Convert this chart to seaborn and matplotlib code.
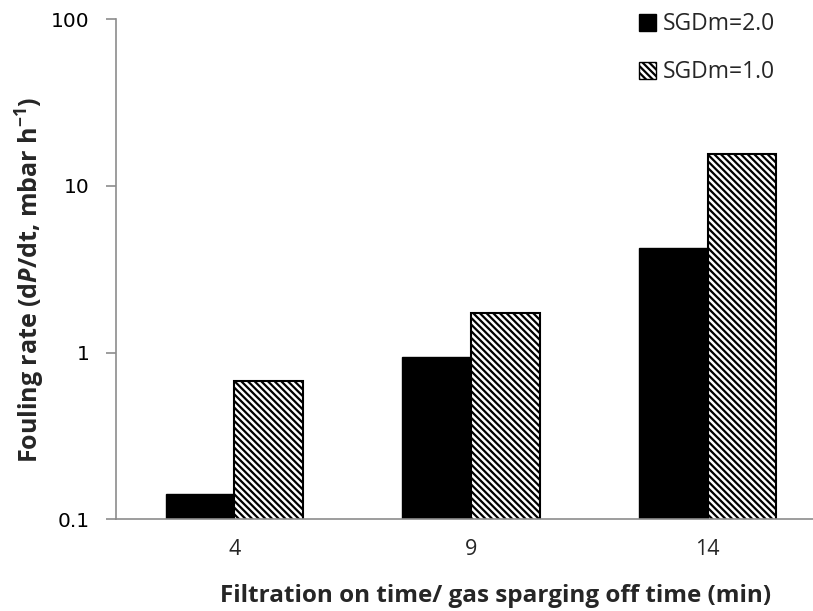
import matplotlib
matplotlib.use("Agg")
import matplotlib.pyplot as plt
import seaborn as sns
import pandas as pd
from matplotlib.patches import Patch

# Data
on_times = ["4", "9", "14"]
sgd_2 = [0.142, 0.945, 4.24]
sgd_1 = [0.676, 1.73, 15.5]
series_names = ["SGDm=2.0", "SGDm=1.0"]
y_ticks = [0.1, 1, 10, 100]
y_tick_labels = ["0.1", "1", "10", "100"]

df = pd.DataFrame({
    "time": on_times * 2,
    "rate": sgd_2 + sgd_1,
    "series": [series_names[0]] * 3 + [series_names[1]] * 3,
})

sns.set_style("white")
FONT = "Open Sans"
plt.rcParams["font.family"] = [FONT, "DejaVu Sans"]
plt.rcParams["mathtext.fontset"] = "custom"
plt.rcParams["mathtext.rm"] = f"{FONT}:bold"
plt.rcParams["mathtext.it"] = f"{FONT}:italic:bold"
plt.rcParams["mathtext.bf"] = f"{FONT}:bold"
plt.rcParams["hatch.linewidth"] = 1.6

HATCH = "\\" * 5

W, H = 813, 611
fig = plt.figure(figsize=(W / 100, H / 100), dpi=100)
ax = fig.add_axes([116 / W, (H - 519.3) / H, (826 - 116) / W, 500 / H])

sns.barplot(data=df, x="time", y="rate", hue="series", order=on_times,
            hue_order=series_names, palette=["black", "white"],
            width=0.58, gap=0, saturation=1, ax=ax, legend=False, errorbar=None)

n = len(on_times)
for i, bar in enumerate(ax.patches):
    if i < n:
        bar.set_facecolor("black")
        bar.set_edgecolor("black")
        bar.set_linewidth(1.0)
    else:
        bar.set_facecolor("white")
        bar.set_edgecolor("black")
        bar.set_hatch(HATCH)
        bar.set_linewidth(1.5)

ax.set_yscale("log")
ax.set_ylim(0.1, 100)
ax.set_xlim(-0.5, n - 0.5)
ax.set_yticks(y_ticks)
ax.set_yticklabels(y_tick_labels)
ax.yaxis.set_minor_locator(matplotlib.ticker.NullLocator())

axis_color = "#8c8c8c"
for side in ["top", "right"]:
    ax.spines[side].set_visible(False)
for side in ["left", "bottom"]:
    ax.spines[side].set_color(axis_color)
    ax.spines[side].set_linewidth(1.2)

ax.tick_params(axis="y", which="major", direction="out", length=7, width=1.2,
               color=axis_color, labelcolor="black", pad=12, left=True)
ax.tick_params(axis="x", which="major", length=0, bottom=False, pad=14)
for lbl in ax.get_yticklabels():
    lbl.set_fontfamily("DejaVu Sans")
    lbl.set_fontsize(14.5)
for lbl in ax.get_xticklabels():
    lbl.set_fontsize(15.5)

ax.set_xlabel("Filtration on time/ gas sparging off time (min)",
              fontsize=17.5, fontweight="bold")
ax.set_ylabel("Fouling rate (d$\\it{P}$/dt, mbar h$^{-1}$)",
              fontsize=18, fontweight="bold")
ax.xaxis.set_label_coords((496 - 116) / (826 - 116), -0.154)
ax.yaxis.set_label_coords(-(116 - 30) / (826 - 116), (519.3 - 280) / 500)
ax.xaxis.label.set_va("center")
ax.yaxis.label.set_va("center")

handles = [
    Patch(facecolor="black", edgecolor="black", label=series_names[0]),
    Patch(facecolor="white", edgecolor="black", hatch=HATCH, label=series_names[1]),
]
fig.legend(handles=handles, loc="upper left", bbox_to_anchor=(630 / W, 1 - 3 / H),
           frameon=False, fontsize=16.5, handlelength=0.75, handleheight=0.75,
           handletextpad=0.3, labelspacing=1.05, borderaxespad=0)

fig.savefig("out.png", dpi=100)
